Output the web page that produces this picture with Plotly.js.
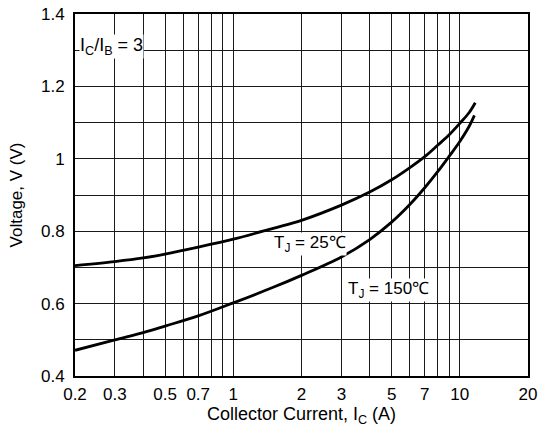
<!DOCTYPE html>
<html>
<head>
<meta charset="utf-8">
<script src="https://cdn.plot.ly/plotly-3.0.1.min.js"></script>
<style>html,body{margin:0;padding:0;background:#fff;}#chart{width:541px;height:432px;}</style>
</head>
<body>
<div id="chart"></div>
<script>
// Collector current (A) and voltage (V) for each junction temperature
const current25 = [0.2, 0.3, 0.4, 0.5, 0.7, 1, 1.5, 2, 3, 4, 5, 6, 7, 8, 9, 10, 11, 11.7];
const voltage25 = [0.705, 0.716, 0.726, 0.737, 0.756, 0.778, 0.808, 0.83, 0.872, 0.908, 0.942, 0.975, 1.006, 1.038, 1.067, 1.098, 1.128, 1.155];
const current150 = [0.2, 0.3, 0.4, 0.5, 0.7, 1, 1.5, 2, 3, 4, 5, 6, 7, 8, 9, 10, 11, 11.6];
const voltage150 = [0.471, 0.5, 0.52, 0.538, 0.566, 0.602, 0.645, 0.678, 0.729, 0.777, 0.825, 0.873, 0.92, 0.965, 1.008, 1.048, 1.09, 1.12];

const xTickVals = [0.2, 0.3, 0.5, 0.7, 1, 2, 3, 5, 7, 10, 20];
const xTickText = ['0.2', '0.3', '0.5', '0.7', '1', '2', '3', '5', '7', '10', '20'];
const xGridVals = [0.4, 0.6, 0.8, 0.9, 4, 6, 8, 9];
const yTickVals = [0.4, 0.6, 0.8, 1.0, 1.2, 1.4];
const yTickText = ['0.4', '0.6', '0.8', '1', '1.2', '1.4'];
const yGridVals = [0.5, 0.7, 0.9, 1.1, 1.3];

const labelRatio = 'I<sub>C</sub>/I<sub>B</sub> = 3';
const label25 = 'T<sub>J</sub> = 25\u2103';
const label150 = 'T<sub>J</sub> = 150\u2103';

const FONT = '"Liberation Sans", Arial, Helvetica, sans-serif';
const GRID = '#1a1a1a';

const traces = [
  {x: current25, y: voltage25, mode: 'lines', line: {color: '#000', width: 2.8, shape: 'spline', smoothing: 1}, hoverinfo: 'skip'},
  {x: current150, y: voltage150, mode: 'lines', line: {color: '#000', width: 2.8, shape: 'spline', smoothing: 1}, hoverinfo: 'skip'}
];

const layout = {
  width: 541, height: 432,
  margin: {l: 75, r: 13, t: 14, b: 56},
  paper_bgcolor: '#fff', plot_bgcolor: '#fff',
  showlegend: false,
  font: {family: FONT, size: 17, color: '#000'},
  xaxis: {
    type: 'log', range: [Math.log10(0.2), Math.log10(20)],
    tickmode: 'array', tickvals: xTickVals, ticktext: xTickText, ticks: '',
    showgrid: true, gridcolor: GRID, gridwidth: 1,
    minor: {tickmode: 'array', tickvals: xGridVals, showgrid: true, gridcolor: GRID, gridwidth: 1, ticks: ''},
    showline: true, linecolor: '#000', linewidth: 2, mirror: true,
    zeroline: false, ticklabelstandoff: 2,
    tickfont: {size: 17},
    title: {text: 'Collector Current, I<sub>C</sub> (A)', font: {size: 18}, standoff: 2}
  },
  yaxis: {
    range: [0.4, 1.4],
    tickmode: 'array', tickvals: yTickVals, ticktext: yTickText, ticks: '',
    showgrid: true, gridcolor: GRID, gridwidth: 1,
    minor: {tickmode: 'array', tickvals: yGridVals, showgrid: true, gridcolor: GRID, gridwidth: 1, ticks: ''},
    showline: true, linecolor: '#000', linewidth: 2, mirror: true,
    zeroline: false, ticklabelstandoff: 5,
    tickfont: {size: 17},
    title: {text: 'Voltage, V (V)', font: {size: 17}, standoff: 14}
  },
  annotations: [
    {xref: 'paper', yref: 'y', x: 0.008, y: 1.31, xanchor: 'left', yanchor: 'middle', text: labelRatio, showarrow: false, bgcolor: '#fff', borderpad: 0, font: {size: 18}},
    {xref: 'paper', yref: 'y', x: (310 - 75) / 453, y: 0.764, xanchor: 'center', yanchor: 'middle', text: label25, showarrow: false, bgcolor: '#fff', borderpad: 0, font: {size: 17}},
    {xref: 'paper', yref: 'y', x: (388 - 75) / 453, y: 0.638, xanchor: 'center', yanchor: 'middle', text: label150, showarrow: false, bgcolor: '#fff', borderpad: 0, font: {size: 17}}
  ]
};

Plotly.newPlot('chart', traces, layout, {staticPlot: true, displayModeBar: false});
</script>
</body>
</html>
